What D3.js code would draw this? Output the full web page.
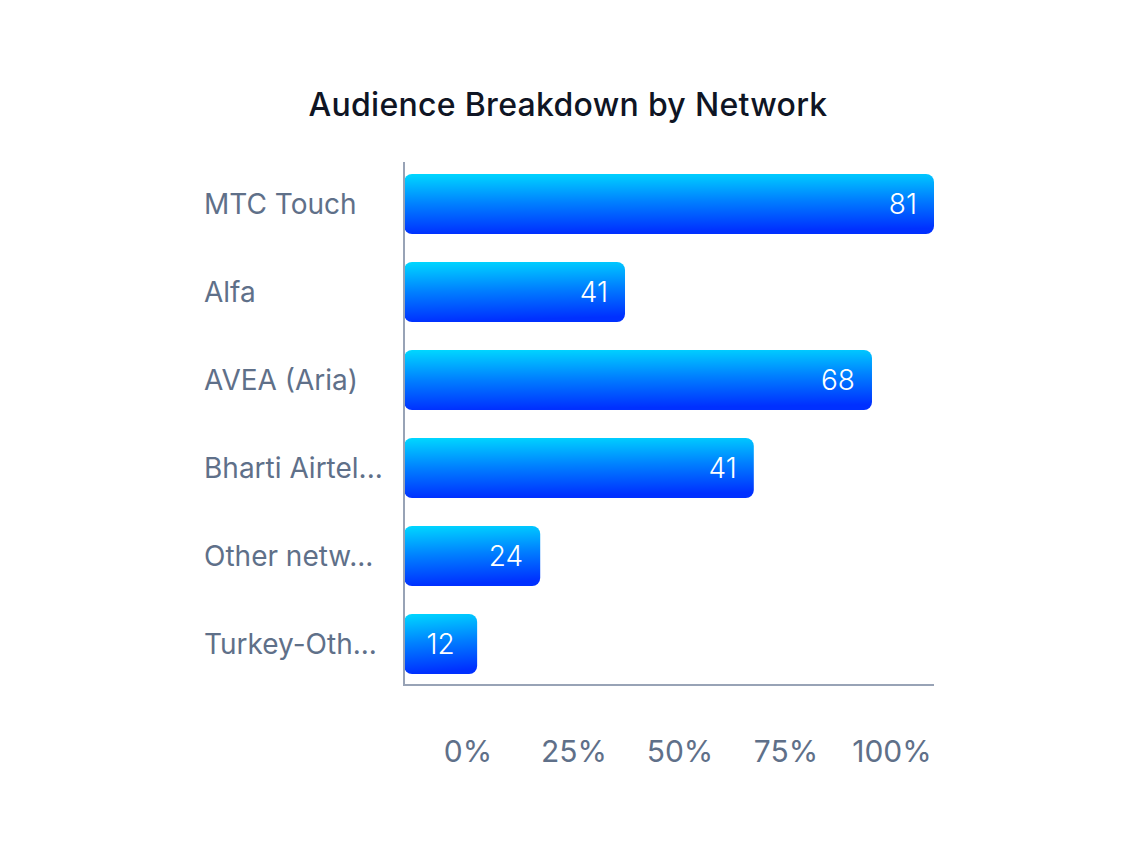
<!DOCTYPE html>
<html>
<head>
<meta charset="utf-8">
<script src="https://cdn.jsdelivr.net/npm/d3@7"></script>
<style>
  html, body { margin: 0; padding: 0; background: #ffffff; }
  svg { display: block; }
</style>
</head>
<body>
<svg id="chart" width="1137" height="846"></svg>
<script>
const categories = ["MTC Touch", "Alfa", "AVEA (Aria)", "Bharti Airtel...", "Other netw...", "Turkey-Oth..."];
const barShare = [100, 41.7, 88.3, 66, 25.7, 13.8];   // bar length, % of axis
const valueLabels = [81, 41, 68, 41, 24, 12];          // numbers printed on bars
const tickLabels = ["0%", "25%", "50%", "75%", "100%"];
const title = "Audience Breakdown by Network";

const svg = d3.select("#chart");
const FONT = "Inter, 'Open Sans', Lato, sans-serif";

const defs = svg.append("defs");
const grad = defs.append("linearGradient")
  .attr("id", "barGrad").attr("x1", "0").attr("y1", "0").attr("x2", "0.1").attr("y2", "1");
grad.append("stop").attr("offset", "0%").attr("stop-color", "#00d8ff");
grad.append("stop").attr("offset", "50%").attr("stop-color", "#0080ff");
grad.append("stop").attr("offset", "100%").attr("stop-color", "#0030ff");

const x = d3.scaleLinear().domain([0, 100]).range([404, 934]);
const y = d3.scaleBand().domain(categories).range([162, 686]).paddingInner(0.318).paddingOuter(0.136);
const tickX = d3.scalePoint().domain(tickLabels).range([468, 892]);

// title
svg.append("text")
  .attr("x", 568).attr("y", 116)
  .attr("text-anchor", "middle")
  .attr("font-family", FONT).attr("font-size", 32).attr("font-weight", 500)
  .attr("letter-spacing", 0.3)
  .attr("fill", "#0f1524")
  .text(title);

// bars
const data = categories.map((c, i) => ({ c, share: barShare[i], v: valueLabels[i] }));
svg.append("g").selectAll("rect").data(data).join("rect")
  .attr("x", x(0))
  .attr("y", d => y(d.c))
  .attr("width", d => x(d.share) - x(0))
  .attr("height", y.bandwidth())
  .attr("rx", 8).attr("ry", 8)
  .attr("fill", "url(#barGrad)");

// value labels
svg.append("g").selectAll("text").data(data).join("text")
  .attr("x", d => {
    const w = x(d.share) - x(0);
    return w < 100 ? x(0) + w / 2 : x(d.share) - 17;
  })
  .attr("y", d => y(d.c) + y.bandwidth() / 2)
  .attr("dy", "0.36em")
  .attr("text-anchor", d => (x(d.share) - x(0)) < 100 ? "middle" : "end")
  .attr("font-family", FONT).attr("font-size", 28).attr("font-weight", 300)
  .attr("fill", "#ffffff")
  .text(d => d.v);

// axes lines
const axisColor = "#98a3b6";
svg.append("line")
  .attr("x1", x(0)).attr("x2", x(0)).attr("y1", 162).attr("y2", 686)
  .attr("stroke", axisColor).attr("stroke-width", 2);
svg.append("line")
  .attr("x1", x(0) - 1).attr("x2", x(100)).attr("y1", 685).attr("y2", 685)
  .attr("stroke", axisColor).attr("stroke-width", 2);

// category labels
svg.append("g").selectAll("text").data(categories).join("text")
  .attr("x", 204)
  .attr("y", d => y(d) + y.bandwidth() / 2)
  .attr("dy", "0.36em")
  .attr("font-family", FONT).attr("font-size", 28).attr("font-weight", 400)
  .attr("fill", "#5f7089")
  .text(d => d);

// x tick labels
svg.append("g").selectAll("text").data(tickLabels).join("text")
  .attr("x", d => tickX(d))
  .attr("y", 751)
  .attr("dy", "0.36em")
  .attr("text-anchor", "middle")
  .attr("font-family", FONT).attr("font-size", 30).attr("font-weight", 400)
  .attr("fill", "#5f7089")
  .text(d => d);
</script>
</body>
</html>
